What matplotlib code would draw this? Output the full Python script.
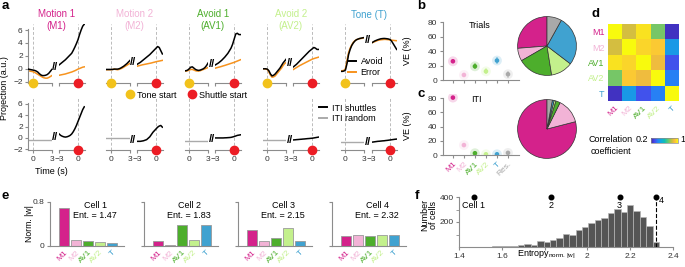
import numpy as np
import matplotlib
matplotlib.use('Agg')
import matplotlib.pyplot as plt
from matplotlib.colors import LinearSegmentedColormap
from matplotlib.lines import Line2D

plt.rcParams['font.family'] = ['Liberation Sans', 'DejaVu Sans']
plt.rcParams['mathtext.fontset'] = 'custom'
plt.rcParams['mathtext.rm'] = 'Liberation Sans'
plt.rcParams['mathtext.it'] = 'Liberation Sans:italic'
plt.rcParams.update({
    'axes.edgecolor': '#8c8c8c', 'axes.linewidth': 0.8,
    'xtick.color': '#8c8c8c', 'ytick.color': '#8c8c8c',
    'xtick.labelcolor': '#333333', 'ytick.labelcolor': '#333333',
    'xtick.labelsize': 6, 'ytick.labelsize': 6,
    'xtick.major.size': 2.5, 'ytick.major.size': 2.5,
    'xtick.minor.size': 2.0, 'ytick.minor.size': 2.0,
    'xtick.major.width': 0.8, 'ytick.major.width': 0.8,
    'xtick.major.pad': 1.5, 'ytick.major.pad': 1.5,
})

# ----------------------------- DATA -----------------------------
variables = ['M1', 'M2', 'AV1', 'AV2', 'T']
var_colors = ['#D4228B', '#F2B3D6', '#4DAE2C', '#C3F08C', '#40A2D0']
titles = ['Motion 1\n(M1)', 'Motion 2\n(M2)', 'Avoid 1\n(AV1)', 'Avoid 2\n(AV2)', 'Tone (T)']

t_tone = [-0.75, -0.5, -0.25, 0.0, 0.25, 0.5, 0.75, 1.0, 1.25, 1.5, 1.75, 2.0, 2.25, 2.5, 2.75, 3.0]
t_shuttle = [-3.0, -2.75, -2.5, -2.25, -2.0, -1.75, -1.5, -1.25, -1.0, -0.75, -0.5, -0.25,
             0.0, 0.25, 0.5, 0.75, 1.0]

# trials, aligned to tone (left) and shuttle (right): avoid (black) / error (orange)
avoid_tone = [
    [-0.05, -0.1, -0.15, -0.2, -0.25, -0.35, -0.5, -0.75, -0.95, -1.05, -1.05, -1.0, -0.9, -0.7, -0.4, -0.1],
    [-0.1, -0.1, -0.1, -0.1, -0.1, -0.05, -0.05, -0.05, 0.0, 0.1, 0.25, 0.4, 0.6, 0.8, 1.05, 1.3],
    [-0.3, -0.3, -0.2, 0.0, 0.25, 0.3, 0.1, -0.1, -0.2, -0.25, -0.2, -0.1, 0.0, 0.2, 0.5, 0.9],
    [0.0, 0.0, 0.0, -0.05, -0.3, -0.8, -1.1, -1.0, -0.8, -0.5, -0.2, 0.1, 0.5, 0.9, 1.2, 1.5],
    [-0.4, -0.4, -0.35, -0.2, 0.8, 2.2, 3.0, 3.6, 4.0, 4.3, 4.5, 4.6, 4.7, 4.75, 4.8, 4.85],
]
error_tone = [
    [-0.3, -0.35, -0.4, -0.45, -0.55, -0.7, -0.85, -1.0, -1.15, -1.3, -1.4, -1.45, -1.45, -1.35, -1.2, -1.05],
    [-0.15, -0.15, -0.15, -0.15, -0.1, -0.05, -0.1, -0.15, -0.1, 0.0, 0.1, 0.25, 0.4, 0.55, 0.7, 0.85],
    [-0.35, -0.35, -0.3, -0.2, -0.1, -0.1, -0.2, -0.3, -0.35, -0.35, -0.3, -0.2, -0.1, 0.0, 0.1, 0.2],
    [0.0, 0.0, -0.05, -0.1, -0.5, -1.0, -1.3, -1.25, -1.1, -0.8, -0.5, -0.2, 0.1, 0.5, 0.8, 1.0],
    [-0.3, -0.3, -0.25, 0.0, 1.3, 2.5, 3.2, 3.7, 4.1, 4.35, 4.5, 4.6, 4.65, 4.7, 4.75, 4.8],
]
avoid_shuttle = [
    [0.6, 0.8, 1.0, 1.2, 1.4, 1.65, 1.9, 2.15, 2.4, 2.85, 3.35, 3.9, 4.5, 5.3, 6.0, 6.6, 6.9],
    [0.7, 0.85, 1.0, 1.2, 1.4, 1.6, 1.8, 2.0, 2.2, 2.45, 2.7, 2.95, 3.2, 3.45, 3.3, 2.8, 2.3],
    [0.6, 0.75, 0.9, 1.1, 1.3, 1.55, 1.8, 2.1, 2.4, 2.8, 3.2, 3.8, 4.6, 5.4, 5.5, 5.3, 5.3],
    [0.3, 0.5, 0.7, 0.95, 1.2, 1.45, 1.7, 1.95, 2.2, 2.45, 2.7, 2.9, 3.1, 3.3, 3.2, 3.0, 3.0],
    [4.0, 4.15, 4.3, 4.4, 4.5, 4.58, 4.65, 4.68, 4.7, 4.68, 4.65, 4.6, 4.5, 4.2, 3.8, 3.4, 3.0],
]
error_shuttle = [
    [-1.0, -0.95, -0.9, -0.85, -0.8, -0.72, -0.65, -0.57, -0.5, -0.4, -0.3, -0.18, -0.05, 0.05, 0.15, 0.25, 0.3],
    [0.4, 0.47, 0.53, 0.6, 0.65, 0.7, 0.75, 0.8, 0.85, 0.9, 0.97, 1.03, 1.1, 1.15, 1.2, 1.25, 1.3],
    [0.1, 0.17, 0.24, 0.3, 0.37, 0.45, 0.52, 0.6, 0.68, 0.76, 0.84, 0.92, 1.0, 1.1, 1.2, 1.3, 1.4],
    [-0.1, 0.05, 0.2, 0.35, 0.5, 0.62, 0.75, 0.87, 1.0, 1.12, 1.25, 1.37, 1.5, 1.58, 1.66, 1.73, 1.8],
    [4.0, 4.1, 4.2, 4.3, 4.4, 4.45, 4.5, 4.52, 4.55, 4.55, 4.52, 4.5, 4.45, 4.42, 4.4, 4.37, 4.35],
]
# ITI: random (gray, left) and shuttles (black, right)
t_iti_random = [-0.75, 3.0]
iti_random = [[-0.4, -0.4], [0.0, 0.0], [-0.5, -0.5], [-0.3, -0.3], [-0.7, -0.7]]
iti_shuttle = [
    [0.7, 0.45, 0.3, 0.2, 0.15, 0.2, 0.3, 0.45, 0.7, 1.1, 1.6, 2.2, 2.9, 3.6, 4.3, 5.0, 5.5],
    [-0.6, -0.6, -0.6, -0.55, -0.5, -0.4, -0.3, -0.05, 0.2, 0.6, 1.0, 1.3, 1.6, 1.9, 2.1, 2.2, 1.9],
    [0.0, 0.0, 0.0, 0.0, 0.0, 0.0, 0.02, 0.03, 0.05, 0.07, 0.1, 0.17, 0.25, 0.35, 0.45, 0.5, 0.55],
    [-0.35, -0.33, -0.3, -0.28, -0.25, -0.23, -0.2, -0.18, -0.15, -0.12, -0.1, -0.07, -0.05, 0.0, 0.05, 0.1, 0.15],
    [-0.75, -0.72, -0.68, -0.64, -0.6, -0.58, -0.55, -0.52, -0.5, -0.46, -0.43, -0.39, -0.35, -0.31, -0.27, -0.23, -0.2],
]

ve_labels = ['M1', 'M2', 'AV1', 'AV2', 'T', 'Res.']
ve_colors = var_colors + ['#A9A9A9']
ve_trials = [26, 7, 19, 12, 27, 8]
ve_trials_err = [2, 2, 4, 4, 5, 5]
ve_iti = [81, 14, 2.5, 1.0, 1.0, 3.0]
ve_iti_err = [2, 2, 1, 1, 1, 1.5]

corr = [
    [1.00, 0.84, 0.96, 0.73, 0.24],
    [0.84, 1.00, 0.94, 0.92, 0.46],
    [0.96, 0.94, 1.00, 0.88, 0.32],
    [0.73, 0.92, 0.88, 1.00, 0.40],
    [0.24, 0.46, 0.32, 0.40, 1.00],
]

cell_names = ['Cell 1', 'Cell 2', 'Cell 3', 'Cell 4']
cell_entropy = [1.47, 1.83, 2.15, 2.32]
cell_weights = [
    [0.70, 0.11, 0.09, 0.065, 0.05],
    [0.085, 0.02, 0.39, 0.115, 0.39],
    [0.29, 0.10, 0.14, 0.32, 0.09],
    [0.19, 0.20, 0.18, 0.20, 0.20],
]
cell_marks = ['Cell 1', '2', '3', '4']

hist_bin_start = 1.405
hist_bin_width = 0.03
hist_counts = [0, 2, 3, 2, 3, 5, 8, 10, 12, 15, 25, 20, 45, 42, 55, 69, 104, 96, 136, 157,
               195, 216, 235, 275, 304, 277, 336, 288, 243, 171, 40]

# ----------------------------- FIGURE -----------------------------
W, H = 685, 267
fig = plt.figure(figsize=(W / 100, H / 100), dpi=100)


def pax(x0, y0, x1, y1):
    return fig.add_axes([x0 / W, 1 - y1 / H, (x1 - x0) / W, (y1 - y0) / H])


def ftext(x, y, s, **kw):
    kw.setdefault('fontsize', 6.5)
    return fig.text(x / W, 1 - y / H, s, **kw)


ORANGE = '#F7931E'
YELLOW = '#F2C21B'
RED = '#EC1C24'
GRAY = '#AAAAAA'
DASH = '#BBBBBB'
FS = 6.5

# ----------------------------- panel a -----------------------------
col_dx = 78.1
rows_px = [(23.6, 83.0), (98.3, 150.4)]
for c in range(5):
    dx = c * col_dx
    for r, (ytop, ybot) in enumerate(rows_px):
        axL = pax(28.3 + dx, ytop, 51.9 + dx, ybot)
        axR = pax(59.1 + dx, ytop, 84.9 + dx, ybot)
        for ax in (axL, axR):
            ax.set_ylim(-2.2, 7.0)
            ax.patch.set_alpha(0)
            ax.spines['top'].set_visible(False)
            ax.spines['right'].set_visible(False)
            ax.axvline(0, color=DASH, lw=0.7, dashes=(3, 2), zorder=0)
        axL.set_xlim(-0.75, 3.0)
        axR.set_xlim(-3.0, 1.1)
        axL.set_xticks([0, 3])
        axR.set_xticks([-3, 0])
        if r == 1:
            axL.set_xticklabels(['0', '3'])
            axR.set_xticklabels(['\u22123', '0'])
        else:
            axL.set_xticklabels([])
            axR.set_xticklabels([])
        axR.spines['left'].set_visible(False)
        axR.set_yticks([])
        if c == 0:
            axL.set_yticks([-2, 0, 2, 4, 6])
            axL.set_yticklabels(['\u22122', '0', '2', '4', '6'])
            axL.spines['left'].set_bounds(-2.2, 6.2)
        else:
            axL.spines['left'].set_visible(False)
            axL.set_yticks([])
        if r == 0:
            axL.plot(t_tone, error_tone[c], color=ORANGE, lw=1.1, zorder=2)
            axL.plot(t_tone, avoid_tone[c], color='k', lw=1.1, zorder=3)
            axR.plot(t_shuttle, error_shuttle[c], color=ORANGE, lw=1.1, zorder=2)
            axR.plot(t_shuttle, avoid_shuttle[c], color='k', lw=1.1, zorder=3)
            axL.plot([0], [-2.2], 'o', color=YELLOW, ms=6, clip_on=False, zorder=6)
            ybrk = (avoid_tone[c][-1] + avoid_shuttle[c][0]) / 2
        else:
            axL.plot(t_iti_random, iti_random[c], color=GRAY, lw=1.0, zorder=2)
            axR.plot(t_shuttle, iti_shuttle[c], color='k', lw=1.1, zorder=3)
            ybrk = (iti_random[c][-1] + iti_shuttle[c][0]) / 2
        axR.plot([0], [-2.2], 'o', color=RED, ms=6, clip_on=False, zorder=6)
        axL.text(3.55, ybrk, '//', ha='center', va='center', fontsize=8,
                 fontweight='bold', clip_on=False)
    ftext(56.5 + dx, 15 if c == 4 else 20, titles[c], ha='center', va='center',
          color=var_colors[c], fontsize=7, linespacing=1.3)

ftext(5, 88, 'Projection (a.u.)', rotation=90, ha='center', va='center')
ftext(51, 172, 'Time (s)', ha='center', va='center')

fig.legend([Line2D([], [], color='k', lw=1.4), Line2D([], [], color=ORANGE, lw=1.4)],
           ['Avoid', 'Error'], loc='center left', bbox_to_anchor=(348 / W, 1 - 67 / H),
           frameon=False, fontsize=FS, handlelength=0.9, handletextpad=0.5,
           labelspacing=0.2, borderpad=0, borderaxespad=0)
fig.legend([Line2D([], [], ls='', marker='o', color=YELLOW, ms=6),
            Line2D([], [], ls='', marker='o', color=RED, ms=6)],
           ['Tone start', 'Shuttle start'], loc='center left',
           bbox_to_anchor=(126 / W, 1 - 95 / H), ncol=2, frameon=False, fontsize=FS,
           handlelength=0.8, handletextpad=0.4, columnspacing=1.3, borderpad=0,
           borderaxespad=0)
fig.legend([Line2D([], [], color='k', lw=1.4), Line2D([], [], color=GRAY, lw=1.4)],
           ['ITI shuttles', 'ITI random'], loc='center left',
           bbox_to_anchor=(319 / W, 1 - 113.5 / H), frameon=False, fontsize=FS,
           handlelength=0.9, handletextpad=0.5, labelspacing=0.2, borderpad=0,
           borderaxespad=0)

# ----------------------------- panels b, c -----------------------------
for vals, errs, (ytop, ybot), name, show_lab in (
        (ve_trials, ve_trials_err, (18.4, 80.0), 'Trials', False),
        (ve_iti, ve_iti_err, (94.4, 155.0), 'ITI', True)):
    ax = pax(443, ytop, 519, ybot)
    ax.set_ylim(0, 85.5)
    ax.set_xlim(-0.9, 6.0)
    ax.spines['top'].set_visible(False)
    ax.spines['right'].set_visible(False)
    ax.spines['left'].set_bounds(0, 80)
    ax.set_yticks([0, 20, 40, 60, 80])
    ax.set_xticks(range(len(ve_labels)))
    x = np.arange(len(ve_labels))
    ax.scatter(x, vals, s=50, c=ve_colors, alpha=0.18, lw=0, zorder=1)
    for i in range(len(vals)):
        ax.errorbar(x[i], vals[i], yerr=errs[i], color=ve_colors[i], alpha=0.45,
                    lw=1.2, capsize=0, zorder=2)
    ax.scatter(x, vals, s=11, c=ve_colors, lw=0, zorder=3)
    if show_lab:
        ax.set_xticklabels(ve_labels, rotation=45, ha='right', rotation_mode='anchor',
                           fontsize=6)
        for lab, col in zip(ax.get_xticklabels(), ve_colors):
            lab.set_color(col)
    else:
        ax.set_xticklabels([])
    ftext(408, (ytop + ybot) / 2 + 1, 'VE (%)', rotation=90, ha='center', va='center')
    ftext(480 if name == 'Trials' else 476, 25 if name == 'Trials' else 99, name,
          ha='center', va='center')

for vals, (cx, cy) in ((ve_trials, (547, 46)), (ve_iti, (547, 129))):
    ax = pax(cx - 30, cy - 30, cx + 30, cy + 30)
    ax.pie(vals, colors=ve_colors, startangle=90, counterclock=True,
           wedgeprops=dict(edgecolor='#333333', linewidth=0.5))
    ax.set_xlim(-1.02, 1.02)
    ax.set_ylim(-1.02, 1.02)
    ax.set_aspect('equal')

# ----------------------------- panel d -----------------------------
parula = LinearSegmentedColormap.from_list('parula', [
    (0.0, (0.2422, 0.1504, 0.6603)),
    (0.125, (0.2803, 0.2782, 0.9221)),
    (0.25, (0.1540, 0.5040, 0.9600)),
    (0.375, (0.0641, 0.6669, 0.8688)),
    (0.5, (0.0689, 0.7408, 0.7131)),
    (0.625, (0.3469, 0.7896, 0.4684)),
    (0.75, (0.7308, 0.7559, 0.2568)),
    (0.875, (0.9871, 0.7352, 0.2444)),
    (1.0, (0.9763, 0.9831, 0.0538))])
axd = pax(608, 24, 679, 101)
im = axd.imshow(np.array(corr), cmap=parula, vmin=0.2, vmax=1.0, aspect='auto')
for s in axd.spines.values():
    s.set_visible(False)
axd.set_xticks(range(5))
axd.set_yticks(range(5))
axd.set_xticklabels(variables, rotation=45, ha='right', rotation_mode='anchor', fontsize=6)
axd.set_yticklabels(variables, fontsize=6.5)
axd.tick_params(length=0, pad=2.5)
for lab, col in zip(axd.get_xticklabels(), var_colors):
    lab.set_color(col)
for lab, col in zip(axd.get_yticklabels(), var_colors):
    lab.set_color(col)

cax = pax(651, 137.5, 678, 143)
cb = fig.colorbar(im, cax=cax, orientation='horizontal')
cb.set_ticks([])
cb.outline.set_linewidth(0.5)
ftext(611, 145.5, 'Correlation\ncoefficient', ha='center', va='center',
      linespacing=1.35)
ftext(648, 140, '0.2', ha='right', va='center')
ftext(680, 140, '1', ha='left', va='center')

# ----------------------------- panel e -----------------------------
for k in range(4):
    x0 = 50 + 94 * k
    ax = pax(x0, 202, x0 + 74, 246)
    ax.set_ylim(0, 0.8)
    ax.set_xlim(-1.2, 5.05)
    ax.spines['top'].set_visible(False)
    ax.spines['right'].set_visible(False)
    ax.bar(range(5), cell_weights[k], width=0.84, color=var_colors, edgecolor='#9a9a9a',
           lw=0.6)
    ax.set_yticks([0, 0.8])
    ax.set_yticklabels(['0', '0.8'] if k == 0 else [])
    ax.set_xticks(range(5))
    ax.set_xticklabels(variables, rotation=45, ha='right', rotation_mode='anchor',
                       fontsize=6)
    ax.tick_params(axis='x', length=0, pad=2)
    for lab, col in zip(ax.get_xticklabels(), var_colors):
        lab.set_color(col)
    ax.text(0.61, 0.93, cell_names[k], transform=ax.transAxes, ha='center', va='center',
            fontsize=FS)
    ax.text(0.61, 0.69, 'Ent. = %.2f' % cell_entropy[k], transform=ax.transAxes,
            ha='center', va='center', fontsize=FS)
ftext(29, 224, 'Norm. |w|', rotation=90, ha='center', va='center', fontsize=6.2)

# ----------------------------- panel f -----------------------------
axf = pax(459, 197, 673, 247)
lefts = hist_bin_start + hist_bin_width * np.arange(len(hist_counts))
axf.bar(lefts, hist_counts, width=hist_bin_width, align='edge', color='#555555',
        edgecolor='#b5b5b5', lw=0.5)
axf.set_xlim(1.4, 2.4)
axf.set_ylim(0, 400)
axf.spines['top'].set_visible(False)
axf.spines['right'].set_visible(False)
axf.set_yticks([200, 400])
axf.set_yticks([100, 300], minor=True)
axf.set_xticks([1.4, 1.6, 1.8, 2.0, 2.2, 2.4])
axf.set_xticklabels(['1.4', '1.6', '', '2', '2.2', '2.4'])
axf.plot(cell_entropy, [400] * len(cell_entropy), 'o', color='k', ms=3.3, clip_on=False,
         zorder=5)
axf.vlines(cell_entropy[-1], 0, 400, colors='k', linestyles='--', lw=0.8, zorder=4)
for i, (xe, lab) in enumerate(zip(cell_entropy, cell_marks)):
    if i == len(cell_entropy) - 1:
        axf.text(xe + 0.015, 372, lab, ha='left', va='center', fontsize=FS)
    else:
        axf.text(xe, 335, lab, ha='center', va='center', fontsize=FS)
ftext(546, 254.5, 'Entropy$_{\\mathrm{norm.\\,|w|}}$', ha='center', va='center')
ftext(429, 215, 'Number\nof cells', rotation=90, ha='center', va='center',
      linespacing=0.95)

# ----------------------------- panel letters -----------------------------
for letter, (x, y) in zip('abcdef', [(2, 6), (417, 6), (417, 94), (591, 14), (2, 196),
                                      (415, 196)]):
    ftext(x, y, letter, fontweight='bold', fontsize=9.5, ha='left', va='center')

fig.savefig('out.png', dpi=100)
